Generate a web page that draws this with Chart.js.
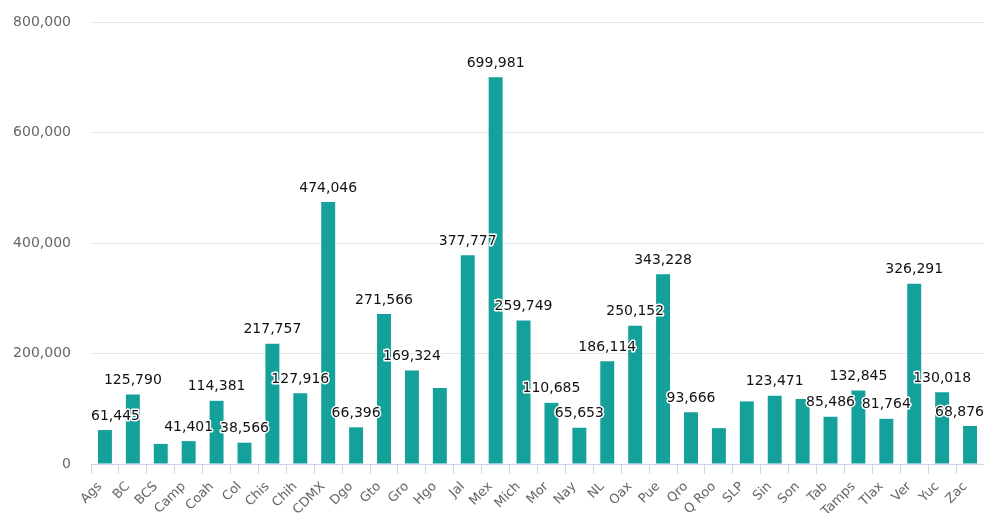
<!DOCTYPE html>
<html>
<head>
<meta charset="utf-8">
<script src="https://cdn.jsdelivr.net/npm/chart.js@4.4.1/dist/chart.umd.min.js"></script>
<style>
  body { margin: 0; background: #fff; }
  canvas { display: block; }
</style>
</head>
<body>
<canvas id="myCanvas" width="984" height="513"></canvas>
<script>
'use strict';

let estados = ['Ags', 'BC', 'BCS', 'Camp', 'Coah', 'Col', 'Chis', 'Chih', 'CDMX', 'Dgo',
  'Gto', 'Gro', 'Hgo', 'Jal', 'Mex', 'Mich', 'Mor', 'Nay', 'NL', 'Oax', 'Pue', 'Qro',
  'Q Roo', 'SLP', 'Sin', 'Son', 'Tab', 'Tamps', 'Tlax', 'Ver', 'Yuc', 'Zac'];

let valores = [61445, 125790, 36400, 41401, 114381, 38566, 217757, 127916, 474046, 66396,
  271566, 169324, 137600, 377777, 699981, 259749, 110685, 65653, 186114, 250152, 343228, 93666,
  64900, 113300, 123471, 117600, 85486, 132845, 81764, 326291, 130018, 68876];

// labels that collide with a neighbour are left out
let sinEtiqueta = ['BCS', 'Hgo', 'Q Roo', 'SLP', 'Son'];

let yTicks = [0, 200000, 400000, 600000, 800000];

let fmt = new Intl.NumberFormat('en-US');

// value labels above each bar, kept inside the plot area
let etiquetas = {
  id: 'etiquetas',
  afterDatasetsDraw(chart) {
    let ctx = chart.ctx;
    let area = chart.chartArea;
    let meta = chart.getDatasetMeta(0);
    ctx.save();
    ctx.font = '14px "DejaVu Sans"';
    ctx.textBaseline = 'middle';
    ctx.textAlign = 'center';
    ctx.lineJoin = 'round';
    meta.data.forEach(function(bar, i) {
      if (sinEtiqueta.includes(estados[i])) return;
      let txt = fmt.format(valores[i]);
      let w = ctx.measureText(txt).width;
      let x = bar.x;
      if (x - w / 2 < area.left) x = area.left + w / 2;
      if (x + w / 2 > area.right) x = area.right - w / 2;
      let y = bar.y - 14;
      ctx.strokeStyle = '#fff';
      ctx.lineWidth = 3;
      ctx.strokeText(txt, x, y);
      ctx.fillStyle = '#111';
      ctx.fillText(txt, x, y);
    });
    ctx.restore();
  }
};

let myChart = document.getElementById('myCanvas').getContext('2d');
let myBarChart = new Chart(myChart, {
  type: 'bar',
  data: {
    labels: estados,
    datasets: [{
      data: valores,
      backgroundColor: '#14a09b',
      borderWidth: 0,
      barPercentage: 0.5,
      categoryPercentage: 1.0
    }]
  },
  options: {
    responsive: false,
    animation: false,
    layout: { padding: { top: 22, left: 0, right: 0, bottom: 0 } },
    plugins: {
      legend: { display: false },
      tooltip: { enabled: false }
    },
    scales: {
      x: {
        afterFit: function(scale) {
          scale.height = 49;
          scale.paddingLeft = 0;
          scale.paddingRight = 0;
        },
        border: { display: true, color: '#ccd6eb', width: 1 },
        grid: {
          drawOnChartArea: false,
          drawTicks: true,
          tickLength: 10,
          color: '#ccd6eb',
          offset: true
        },
        ticks: {
          autoSkip: false,
          maxRotation: 45,
          minRotation: 45,
          padding: 5,
          labelOffset: -5,
          color: '#666',
          font: { family: 'DejaVu Sans', size: 13 }
        }
      },
      y: {
        min: 0,
        max: 800000,
        afterFit: function(scale) {
          scale.width = 91;
          scale.paddingTop = 0;
          scale.paddingBottom = 0;
        },
        afterBuildTicks: function(scale) {
          scale.ticks = yTicks.map(function(v) { return { value: v }; });
        },
        border: { display: false },
        grid: { color: '#e6e6e6', drawTicks: false },
        ticks: {
          padding: 20,
          color: '#666',
          font: { family: 'DejaVu Sans', size: 14 },
          callback: function(v) { return fmt.format(v); }
        }
      }
    }
  },
  plugins: [etiquetas]
});
</script>
</body>
</html>
